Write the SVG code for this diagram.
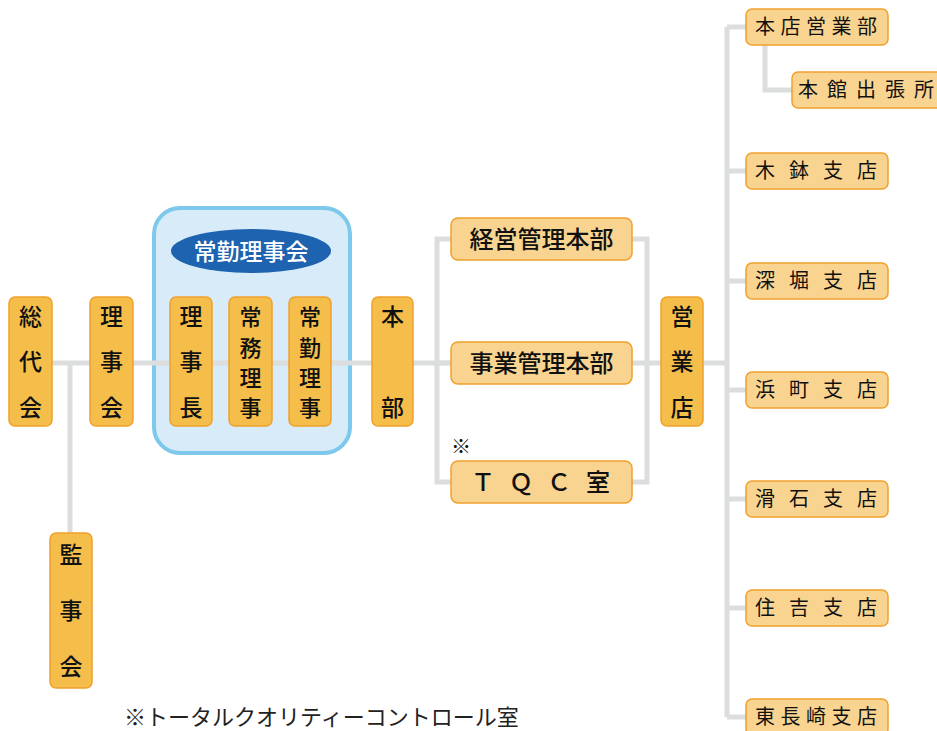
<svg xmlns="http://www.w3.org/2000/svg" width="937" height="731" viewBox="0 0 937 731">
<style>
text{font-family:"Noto Sans CJK JP","Noto Sans CJK SC",sans-serif;fill:#111;}
.v{fill:#F5BE4B;stroke:#F0A02C;stroke-width:1.5;}
.h{fill:#F9D490;stroke:#F0A02C;stroke-width:1.5;}
.vt{font-size:23px;text-anchor:middle;font-weight:500;}
.vt4{font-size:22px;text-anchor:middle;font-weight:500;}
.ht{font-size:24px;text-anchor:middle;font-weight:500;}
.bt{font-size:20px;text-anchor:middle;}
.c{fill:none;stroke:#DCDDDD;stroke-width:5;}
</style>
<rect width="937" height="731" fill="#fff"/>
<g id="council-bg">
<rect x="154" y="208" width="196" height="245" rx="26" fill="#D7EBF8" stroke="#7EC8EC" stroke-width="4"/>
</g>
<g id="connectors">
<path class="c" d="M52 363H661M703 363H727"/>
<path class="c" d="M70 363V533"/>
<path class="c" d="M451 239H437V482H451M437 363H451"/>
<path class="c" d="M632 239H647V482H632"/>
<path class="c" d="M727 27V717M727 27H746M727 171H746M727 281H746M727 390H746M727 499H746M727 608H746M727 717H746"/>
<path class="c" d="M765 45V90H792"/>
</g>
<g id="sodaikai"><rect class="v" x="9" y="297" width="43" height="129" rx="6"/><text class="vt" x="30.5" y="325">総</text><text class="vt" x="30.5" y="370">代</text><text class="vt" x="30.5" y="416">会</text></g>
<g id="rijikai"><rect class="v" x="90" y="297" width="43" height="129" rx="6"/><text class="vt" x="111.5" y="325">理</text><text class="vt" x="111.5" y="370">事</text><text class="vt" x="111.5" y="416">会</text></g>
<g id="kanjikai"><rect class="v" x="50" y="533" width="42" height="155" rx="6"/><text class="vt" x="71" y="563">監</text><text class="vt" x="71" y="619">事</text><text class="vt" x="71" y="675">会</text></g>
<g id="jokin-label"><ellipse cx="251" cy="251" rx="80" ry="22" fill="#1D63AF"/><text x="251" y="259.5" style="font-size:23px;text-anchor:middle;fill:#fff;font-weight:500;">常勤理事会</text></g>
<g id="rijicho"><rect class="v" x="170" y="297" width="42" height="129" rx="6"/><text class="vt" x="191" y="325">理</text><text class="vt" x="191" y="370">事</text><text class="vt" x="191" y="416">長</text></g>
<g id="jomu"><rect class="v" x="229" y="297" width="43" height="129" rx="6"/><text class="vt4" x="250.5" y="325">常</text><text class="vt4" x="250.5" y="355.5">務</text><text class="vt4" x="250.5" y="386">理</text><text class="vt4" x="250.5" y="416">事</text></g>
<g id="jokin"><rect class="v" x="289" y="297" width="42" height="129" rx="6"/><text class="vt4" x="310" y="325">常</text><text class="vt4" x="310" y="355.5">勤</text><text class="vt4" x="310" y="386">理</text><text class="vt4" x="310" y="416">事</text></g>
<g id="honbu"><rect class="v" x="372" y="297" width="41" height="129" rx="6"/><text class="vt" x="392.5" y="325">本</text><text class="vt" x="392.5" y="416">部</text></g>
<g id="keiei"><rect class="h" x="451" y="218" width="181" height="42" rx="7"/><text class="ht" x="541.5" y="247.5">経営管理本部</text></g>
<g id="jigyo"><rect class="h" x="451" y="342" width="181" height="42" rx="7"/><text class="ht" x="541.5" y="371.5">事業管理本部</text></g>
<g id="tqc"><rect class="h" x="451" y="461" width="181" height="42" rx="7"/><text class="ht" x="483 521 559 598" y="490.5">ＴＱＣ室</text><text x="461" y="454" style="font-size:20px;text-anchor:middle;">※</text></g>
<g id="eigyoten"><rect class="v" x="661" y="297" width="42" height="129" rx="6"/><text class="vt" x="682" y="325">営</text><text class="vt" x="682" y="370">業</text><text class="vt" x="682" y="416">店</text></g>
<g id="honten"><rect class="h" x="746" y="9" width="142" height="36" rx="6"/><text class="bt" x="765 790.5 816 841.5 867" y="34">本店営業部</text></g>
<g id="honkan"><rect class="h" x="792" y="72" width="150" height="36" rx="6"/><text class="bt" x="808 837 866 895 924" y="97">本館出張所</text></g>
<g id="kibachi"><rect class="h" x="746" y="153" width="142" height="36" rx="6"/><text class="bt" x="765 799 833 867" y="178">木鉢支店</text></g>
<g id="fukahori"><rect class="h" x="746" y="263" width="142" height="36" rx="6"/><text class="bt" x="765 799 833 867" y="288">深堀支店</text></g>
<g id="hamamachi"><rect class="h" x="746" y="372" width="142" height="36" rx="6"/><text class="bt" x="765 799 833 867" y="397">浜町支店</text></g>
<g id="nameshi"><rect class="h" x="746" y="481" width="142" height="36" rx="6"/><text class="bt" x="765 799 833 867" y="506">滑石支店</text></g>
<g id="sumiyoshi"><rect class="h" x="746" y="590" width="142" height="36" rx="6"/><text class="bt" x="765 799 833 867" y="615">住吉支店</text></g>
<g id="higashinagasaki"><rect class="h" x="746" y="699" width="142" height="36" rx="6"/><text class="bt" x="765 790.5 816 841.5 867" y="724">東長崎支店</text></g>
<text x="124" y="725" style="font-size:22px;fill:#222;">※トータルクオリティーコントロール室</text>
</svg>
